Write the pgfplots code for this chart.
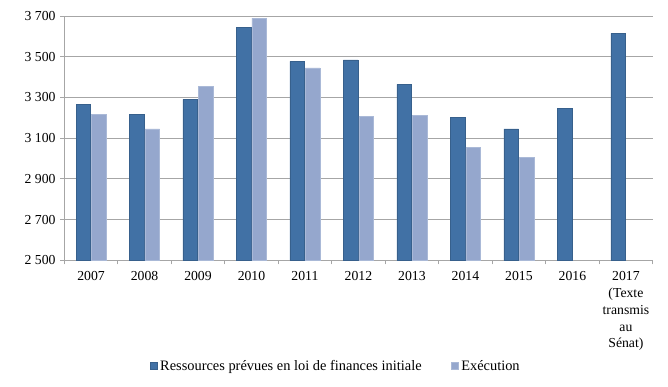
\documentclass[border=0pt]{standalone}
\usepackage{pgfplots}
\pgfplotsset{compat=1.18}
\usepackage{fontspec}
\setmainfont{Liberation Serif}
\definecolor{darkb}{HTML}{4171A5}
\definecolor{lightb}{HTML}{95A7CD}
\definecolor{gridg}{HTML}{A6A6A6}
\begin{document}
\begin{tikzpicture}
\begin{axis}[
 at={(0pt,0pt)}, anchor=south west,
 scale only axis, width=441.3pt, height=183.2pt,
 xmin=-0.5, xmax=10.5, ymin=2500, ymax=3700,
 axis x line*=bottom, axis y line*=left,
 axis line style={gridg, line width=0.75pt},
 ybar=0.5pt, bar width=11pt,
 xtick={0,1,2,3,4,5,6,7,8,9,10},
 xticklabels={2007,2008,2009,2010,2011,2012,2013,2014,2015,2016,{2017\\(Texte\\transmis\\au\\Sénat)}},
 xticklabel style={align=center, font=\fontsize{10.3}{12.6}\selectfont, yshift=-2pt},
 major x tick style={draw=none},
 minor xtick={-0.5,0.5,1.5,2.5,3.5,4.5,5.5,6.5,7.5,8.5,9.5,10.5},
 tick align=outside,
 major tick length=3pt, minor tick length=3pt,
 tick style={gridg, line width=0.75pt},
 ytick={2500,2700,2900,3100,3300,3500,3700},
 yticklabels={2 500,2 700,2 900,3 100,3 300,3 500,3 700},
 yticklabel style={font=\fontsize{10.3}{12}\selectfont},
 ymajorgrids, grid style={gridg, line width=0.75pt},
 legend style={at={(0.462,-0.433)}, anchor=center, draw=none, legend columns=2,
   font=\fontsize{10.8}{12}\selectfont,
   /tikz/every even column/.append style={column sep=20pt}},
 legend image code/.code={\fill[#1] (0pt,-2.6pt) rectangle (5.3pt,2.6pt);},
]
\addplot[fill=darkb, draw=darkb!85!black, line width=0.4pt] coordinates {
 (0,3266) (1,3215) (2,3290) (3,3643) (4,3477) (5,3484) (6,3364) (7,3202) (8,3146) (9,3246) (10,3615)};
\addplot[fill=lightb, draw=lightb!80!white, line width=0.4pt] coordinates {
 (0,3215) (1,3146) (2,3354) (3,3689) (4,3445) (5,3208) (6,3212) (7,3056) (8,3005)};
\legend{Ressources prévues en loi de finances initiale, Exécution}
\end{axis}
\pgfresetboundingbox
\path[use as bounding box] (-48.2pt,-95pt) rectangle (452.8pt,195.2pt);
\end{tikzpicture}
\end{document}
